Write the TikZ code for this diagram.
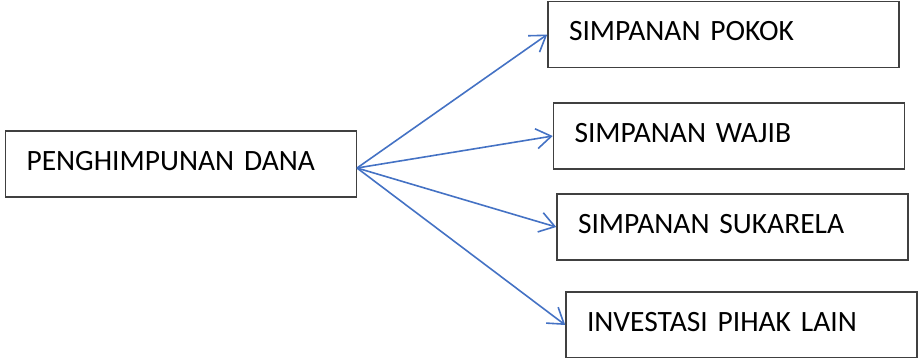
\documentclass[tikz,border=0pt]{standalone}
\usepackage{fontspec}
\setmainfont{Carlito}
\usepackage{tikz}
\usetikzlibrary{arrows.meta}
\definecolor{arrowblue}{HTML}{4472C4}
\definecolor{boxgray}{HTML}{404040}

\begin{document}
\begin{tikzpicture}[x=1pt, y=-1pt,
    box/.style={draw=boxgray, line width=1.5pt, minimum width=351pt, minimum height=66pt,
        inner xsep=21pt, text width=309pt, align=left, text height=19pt, text depth=7pt,
        font=\fontsize{29.5}{31}\selectfont},
    link/.style={draw=arrowblue, line width=1.6pt, -{Straight Barb[length=15pt, width=20pt, line width=1.6pt]}}]
\useasboundingbox (0,0) rectangle (918,357);
    \node[box] (dana) at (181,164) {PENGHIMPUNAN DANA};
    \node[box] (pokok) at (723.5,34.5) {SIMPANAN POKOK};
    \node[box] (wajib) at (729,136) {SIMPANAN WAJIB};
    \node[box] (sukarela) at (732.5,227) {SIMPANAN SUKARELA};
    \node[box] (investasi) at (741.5,325) {INVESTASI PIHAK LAIN};
    \coordinate (src) at (357,168);
    \draw[link] (src) -- (pokok.west);
    \draw[link] (src) -- (wajib.west);
    \draw[link] (src) -- (sukarela.west);
    \draw[link] (src) -- (investasi.west);
\end{tikzpicture}
\end{document}
